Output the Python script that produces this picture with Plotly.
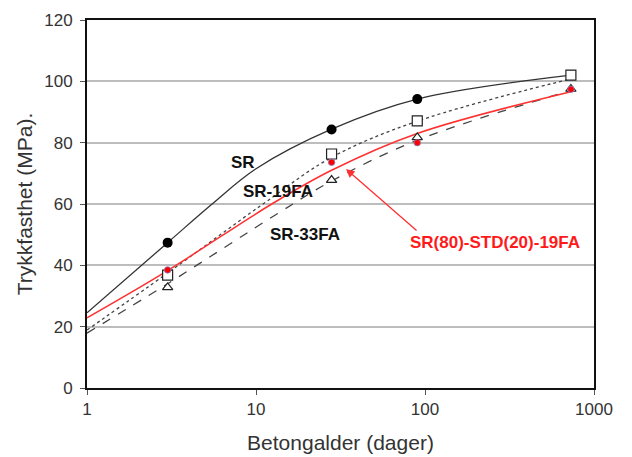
import numpy as np
import plotly.graph_objects as go

# Measured data points
days = [3, 28, 90, 730]
sr = [47.4, 84.3, 94.2, 102.0]
sr19 = [36.8, 76.3, 87.1, 102.0]
sr33 = [32.8, 67.8, 81.7, 97.5]
red = [38.5, 73.6, 80.0, 97.4]

# Trend curves
sr_fx = [1, 3, 5.5, 10, 28, 90, 730]
sr_fy = [24.5, 47.4, 60.0, 71.5, 84.4, 94.2, 102.0]
sr19_fx = [1, 3, 11, 28, 90, 730]
sr19_fy = [18.9, 37.5, 60.0, 75.2, 87.0, 100.8]
sr33_fx = [1, 3, 13.9, 28, 90, 730]
sr33_fy = [17.9, 34.0, 57.4, 67.5, 80.8, 97.0]
red_fx = [1, 3, 12.4, 28, 90, 730]
red_fy = [22.9, 38.3, 60.0, 71.0, 83.0, 96.6]

yticks = [0, 20, 40, 60, 80, 100, 120]
xticks = [1, 10, 100, 1000]

FONT = "Liberation Sans, Arial, sans-serif"
fig = go.Figure()

def curve(x, y, color, dash, width=1.3):
    fig.add_trace(go.Scatter(x=x, y=y, mode="lines", line=dict(color=color, dash=dash, width=width, shape="spline", smoothing=1.0), hoverinfo="skip"))

curve(sr_fx, sr_fy, "#333333", "solid")
curve(sr19_fx, sr19_fy, "#444444", "dot")
curve(sr33_fx, sr33_fy, "#444444", "dash")
curve(red_fx, red_fy, "#ff3030", "solid", 1.5)

fig.add_trace(go.Scatter(x=days, y=sr, mode="markers", marker=dict(symbol="circle", size=10, color="black")))
fig.add_trace(go.Scatter(x=days, y=sr19, mode="markers", marker=dict(symbol="square", size=10, color="white", line=dict(color="#222222", width=1.2))))
fig.add_trace(go.Scatter(x=days, y=sr33, mode="markers", marker=dict(symbol="triangle-up", size=9, color="white", line=dict(color="#222222", width=1.2))))
fig.add_trace(go.Scatter(x=days, y=red, mode="markers", marker=dict(symbol="circle", size=6.5, color="red", line=dict(color="#8080c0", width=0.8))))

lab = dict(family=FONT, size=17, color="#111111")
ann = [
    dict(x=np.log10(8.4), y=73.4, text="<b>SR</b>", showarrow=False, font=lab),
    dict(x=np.log10(13.5), y=64.2, text="<b>SR-19FA</b>", showarrow=False, font=lab),
    dict(x=np.log10(19.5), y=50.2, text="<b>SR-33FA</b>", showarrow=False, font=lab),
    dict(x=np.log10(259), y=47.3, text="<b>SR(80)-STD(20)-19FA</b>", showarrow=False,
         font=dict(family=FONT, size=17, color="#ff1a1a")),
    dict(x=np.log10(34.1), y=71.4, ax=np.log10(91), ay=50.9, axref="x", ayref="y",
         text="", showarrow=True, arrowhead=2, arrowsize=1.3, arrowwidth=1.3, arrowcolor="#ff3030"),
]

fig.update_layout(
    width=632, height=457,
    margin=dict(l=87, r=38, t=20, b=69),
    paper_bgcolor="white", plot_bgcolor="white",
    showlegend=False,
    annotations=ann,
    font=dict(family=FONT, color="#333333"),
)
fig.update_xaxes(type="log", range=[0, 3], tickvals=xticks, ticktext=[str(v) for v in xticks],
                 showgrid=False, showline=True, linecolor="#111111", linewidth=2, mirror=True,
                 ticks="outside", ticklen=5, tickcolor="#555555", automargin=False,
                 tickfont=dict(size=17, family=FONT, color="#333333"),
                 title=dict(text="Betongalder (dager)", font=dict(size=21, family=FONT, color="#333333"), standoff=17))
fig.update_yaxes(range=[0, 120], tickvals=yticks, showgrid=True, gridcolor="#bdbdbd", gridwidth=1.5,
                 showline=True, linecolor="#111111", linewidth=2, mirror=True, zeroline=False,
                 ticks="outside", ticklen=5, tickcolor="#555555", ticklabelstandoff=4, automargin=False,
                 tickfont=dict(size=17, family=FONT, color="#333333"),
                 title=dict(text="Trykkfasthet (MPa).", font=dict(size=21, family=FONT, color="#333333"), standoff=6))

fig.write_html("out.html")
